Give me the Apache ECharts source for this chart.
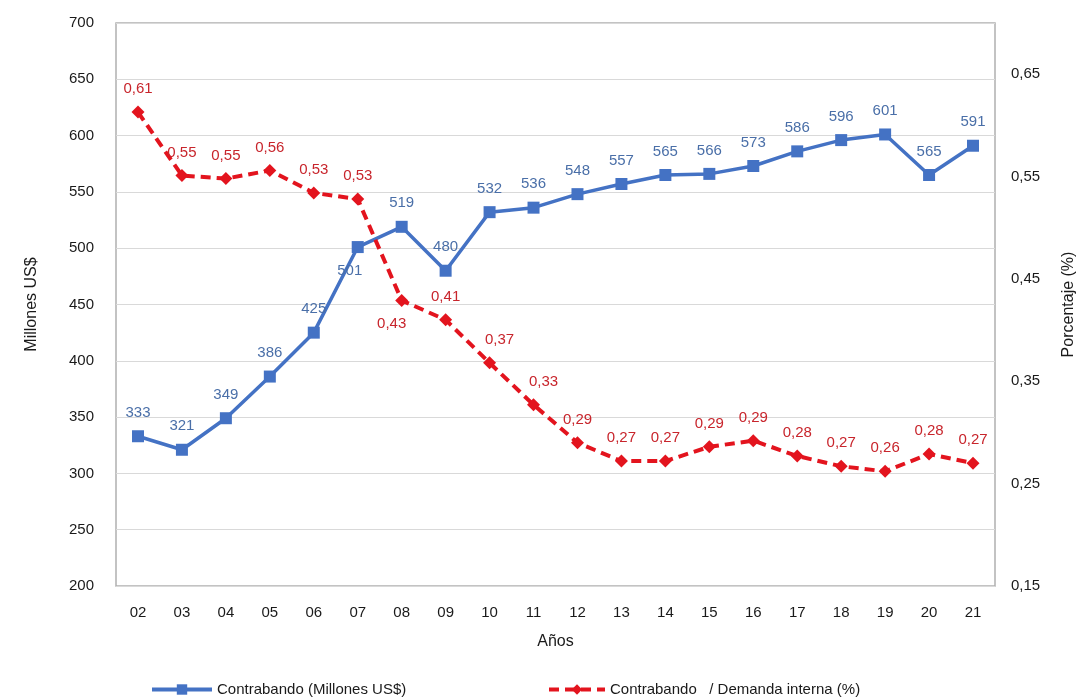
<!DOCTYPE html>
<html>
<head>
<meta charset="utf-8">
<script src="https://cdn.jsdelivr.net/npm/echarts@6/dist/echarts.min.js"></script>
<style>
  html, body { margin: 0; padding: 0; background: #fff; }
  #chart { width: 1081px; height: 700px; }
</style>
</head>
<body>
<div id="chart"></div>
<script>
// datos
const years = ['02', '03', '04', '05', '06', '07', '08', '09', '10', '11', '12', '13', '14', '15', '16', '17', '18', '19', '20', '21'];
const contrabando = [333, 321, 349, 386, 425, 501, 519, 480, 532, 536, 548, 557, 565, 566, 573, 586, 596, 601, 565, 591];
const porcentaje = [0.613, 0.551, 0.548, 0.556, 0.534, 0.528, 0.429, 0.41, 0.368, 0.327, 0.29, 0.272, 0.272, 0.286, 0.292, 0.277, 0.267, 0.262, 0.279, 0.27];
const rightTicks = [0.15, 0.25, 0.35, 0.45, 0.55, 0.65];

const nameBlue = 'Contrabando (Millones US$)';
const nameRed = 'Contrabando   / Demanda interna (%)';
const font = '"Liberation Sans", Arial, sans-serif';
const blue = '#4472c4';
const red = '#e3141e';

const coma = (v, d) => v.toFixed(d).replace('.', ',');

// etiquetas que van debajo en vez de arriba
const blueData = contrabando.map((v, i) => {
  if (i === 5) return { value: v, label: { position: 'bottom', offset: [-8, 0] } };
  return v;
});
const redData = porcentaje.map((v, i) => {
  if (i === 6) return { value: v, label: { position: 'bottom', offset: [-10, 0] } };
  if (i === 8 || i === 9) return { value: v, label: { offset: [10, 0] } };
  return v;
});

const chart = echarts.init(document.getElementById('chart'));
chart.setOption({
  backgroundColor: '#fff',
  animation: false,
  textStyle: { fontFamily: font },
  grid: {
    left: 116, right: 86, top: 23, bottom: 114,
    outerBoundsMode: 'none',
    show: true, borderColor: '#b0b0b0', borderWidth: 1.5
  },
  legend: [
    {
      data: [nameBlue], left: 145, top: 677,
      itemWidth: 60, itemHeight: 13, itemGap: 4,
      lineStyle: { width: 4 },
      textStyle: { fontSize: 15, color: '#1a1a1a', fontFamily: font }
    },
    {
      data: [nameRed], left: 542, top: 677,
      itemWidth: 56, itemHeight: 13, itemGap: 8,
      lineStyle: { width: 4 },
      textStyle: { fontSize: 15, color: '#1a1a1a', fontFamily: font }
    }
  ],
  xAxis: {
    type: 'category',
    data: years,
    name: 'Años',
    nameLocation: 'middle',
    nameGap: 48,
    nameTextStyle: { fontSize: 16, color: '#1a1a1a' },
    axisLine: { show: false },
    axisTick: { show: false },
    axisLabel: { fontSize: 15, color: '#1a1a1a', margin: 19 }
  },
  yAxis: [
    {
      type: 'value',
      min: 200, max: 700, interval: 50,
      name: 'Millones US$',
      nameLocation: 'middle',
      nameGap: 76,
      nameRotate: 90,
      nameTextStyle: { fontSize: 16, color: '#1a1a1a' },
      axisLine: { show: false },
      axisTick: { show: false },
      axisLabel: { fontSize: 15, color: '#1a1a1a', margin: 22 },
      splitLine: { lineStyle: { color: '#d9d9d9', width: 1.2 } }
    },
    {
      type: 'value',
      min: 0.15, max: 0.70, interval: 0.05,
      name: 'Porcentaje (%)',
      nameLocation: 'middle',
      nameGap: 66,
      nameRotate: 90,
      nameTextStyle: { fontSize: 16, color: '#1a1a1a' },
      axisLine: { show: false },
      axisTick: { show: false },
      axisLabel: {
        fontSize: 15, color: '#1a1a1a', margin: 16,
        formatter: (v) => rightTicks.some(t => Math.abs(t - v) < 1e-6) ? coma(v, 2) : ''
      },
      splitLine: { show: false }
    }
  ],
  series: [
    {
      name: nameBlue,
      type: 'line',
      yAxisIndex: 0,
      data: blueData,
      symbol: 'rect',
      symbolSize: 12,
      lineStyle: { color: blue, width: 3.5 },
      itemStyle: { color: blue },
      label: {
        show: true, position: 'top', distance: 10,
        fontSize: 15, color: '#4a6fa8'
      },
      z: 3
    },
    {
      name: nameRed,
      type: 'line',
      yAxisIndex: 1,
      data: redData,
      symbol: 'diamond',
      symbolSize: 13,
      lineStyle: { color: red, width: 4, type: [10, 6] },
      itemStyle: { color: red },
      label: {
        show: true, position: 'top', distance: 9,
        fontSize: 15, color: '#c8252c',
        formatter: (p) => coma(p.value, 2)
      },
      z: 4
    }
  ]
});
</script>
</body>
</html>
